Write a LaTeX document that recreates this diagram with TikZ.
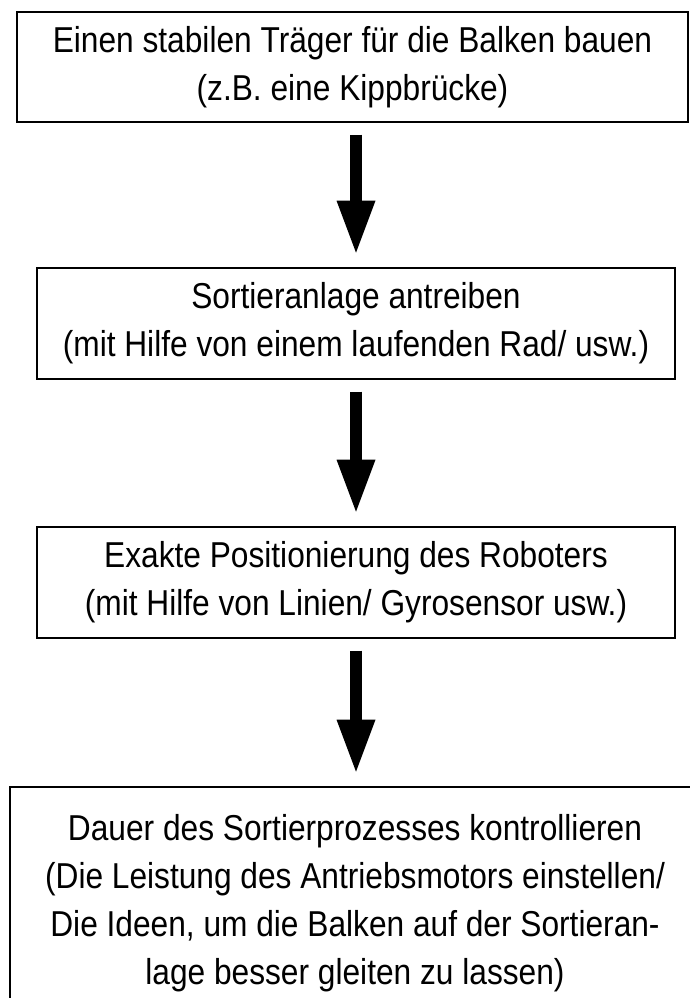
\documentclass[tikz,border=0pt]{standalone}
\usepackage{fontspec}
\setmainfont{Liberation Sans}[FakeStretch=0.88]
\usetikzlibrary{arrows.meta}
\begin{document}
\begin{tikzpicture}[x=0.75pt,y=-0.75pt,
  stepbox/.style={draw=black,line width=1pt,align=center,inner sep=0pt,
    font=\fontsize{27}{36}\selectfont},
  bigarrow/.style={line width=9pt,shorten <=9pt,shorten >=11pt,
    -{Triangle[length=39pt,width=29.25pt,line width=0pt]}}]
\useasboundingbox (0,0) rectangle (689,998);
\node[stepbox,minimum width=503.25pt,minimum height=82.5pt] (traeger) at (352.5,67)
  {Einen stabilen Träger für die Balken bauen\\(z.B. eine Kippbrücke)};
\node[stepbox,minimum width=478.5pt,minimum height=83.25pt] (antrieb) at (356,323.5)
  {Sortieranlage antreiben\\(mit Hilfe von einem laufenden Rad/ usw.)};
\node[stepbox,minimum width=478.5pt,minimum height=83.25pt] (position) at (356,582.5)
  {Exakte Positionierung des Roboters\\(mit Hilfe von Linien/ Gyrosensor usw.)};
\node[stepbox,minimum width=517.5pt,minimum height=174pt] (dauer) at (355,903)
  {Dauer des Sortierprozesses kontrollieren\\(Die Leistung des Antriebsmotors einstellen/\\Die Ideen, um die Balken auf der Sortieran-\\lage besser gleiten zu lassen)};
\draw[bigarrow] (traeger.south -| antrieb.north) -- (antrieb.north);
\draw[bigarrow] (antrieb.south) -- (position.north);
\draw[bigarrow] (position.south) -- (position.south |- dauer.north);
\end{tikzpicture}
\end{document}
